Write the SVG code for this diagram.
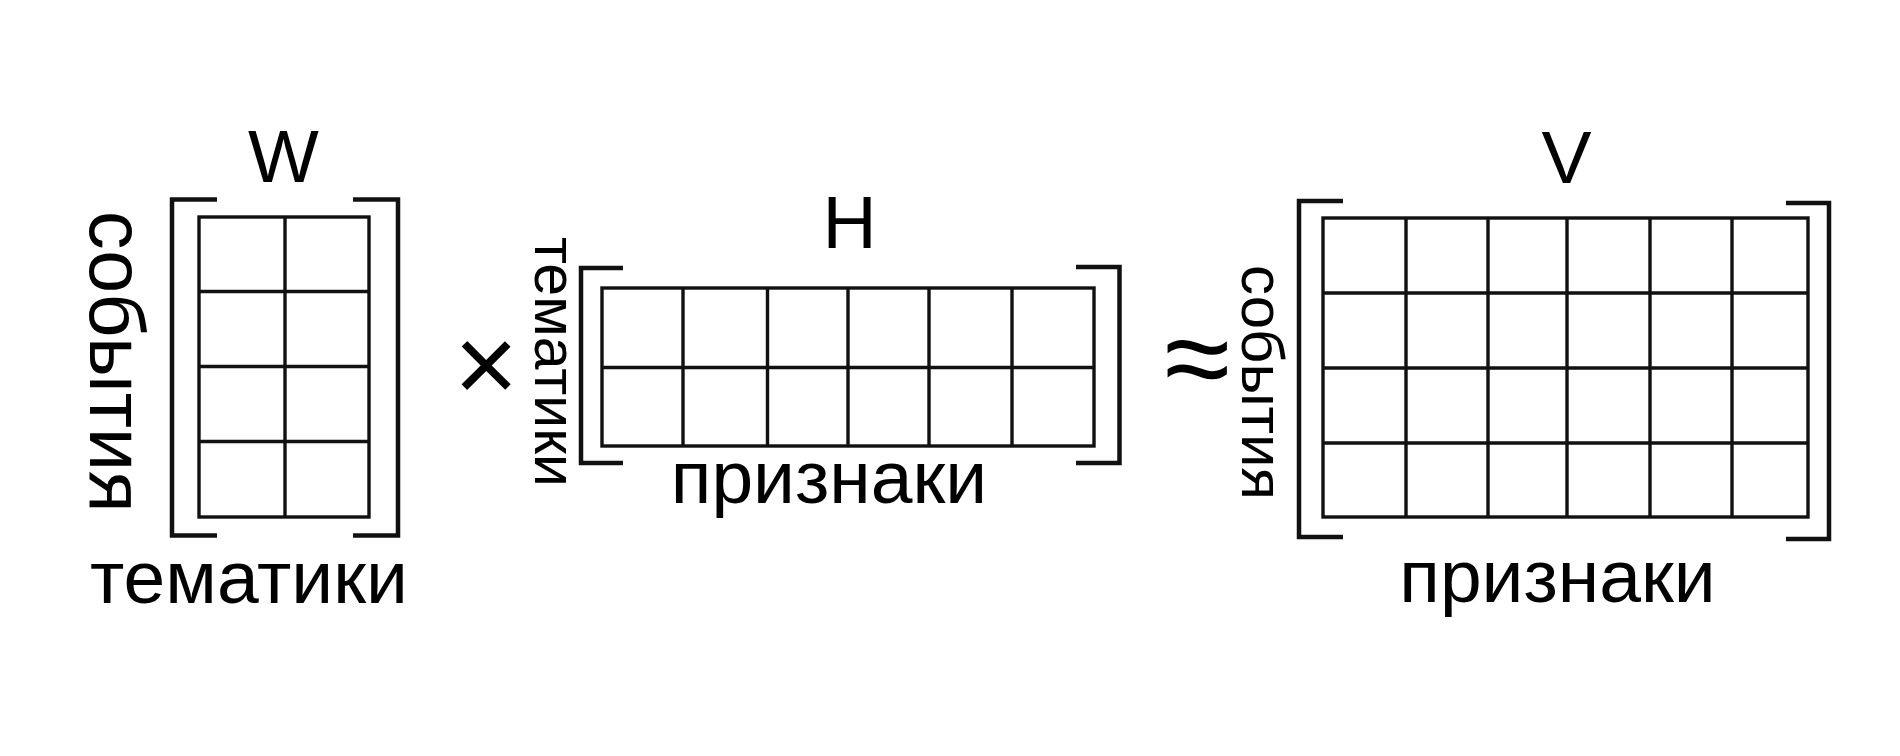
<svg xmlns="http://www.w3.org/2000/svg" width="1900" height="756" viewBox="0 0 1900 756">
<style>
.grid{fill:none;stroke:#111;stroke-width:3.4}
.br{fill:none;stroke:#111;stroke-width:4.5;stroke-linecap:butt;stroke-linejoin:miter}
.t{font-family:"Liberation Sans",Arial,sans-serif;fill:#000}
.big{font-size:75px}
.mid{font-size:60px}
</style>
<rect width="1900" height="756" fill="#fff"/>
<g id="W">
<text class="t big" x="283.5" y="182" text-anchor="middle">W</text>
<path class="br" d="M217,199.5 H172 V535.5 H217 M353,199.5 H398 V535.5 H353"/>
<rect class="grid" x="199" y="217" width="170" height="300"/>
<path class="grid" d="M285,217 V517 M199,291.5 H369 M199,366.5 H369 M199,441.5 H369"/>
<text class="t" font-size="77" transform="translate(90,211) rotate(90)">события</text>
<text class="t big" x="249" y="603" text-anchor="middle">тематики</text>
</g>
<g id="times">
<text class="t" x="486" y="402" font-size="110" text-anchor="middle">×</text>
</g>
<g id="H">
<text class="t big" x="849.5" y="248" text-anchor="middle">H</text>
<path class="br" d="M623,268 H581 V463 H623 M1076,267 H1119.5 V463 H1076"/>
<rect class="grid" x="602" y="288" width="492" height="158"/>
<path class="grid" d="M683,288 V446 M767.5,288 V446 M848,288 V446 M929,288 V446 M1012,288 V446 M602,367.5 H1094"/>
<text class="t" font-size="59" transform="translate(535,237) rotate(90)">тематики</text>
<text class="t big" x="829" y="503" text-anchor="middle">признаки</text>
</g>
<g id="approx">
<text class="t" x="1197.5" y="399" font-size="120" text-anchor="middle">≈</text>
</g>
<g id="V">
<text class="t big" x="1566.5" y="183" text-anchor="middle">V</text>
<path class="br" d="M1343,201 H1299 V537 H1343 M1786,203 H1829 V539 H1786"/>
<rect class="grid" x="1323" y="218" width="485" height="299"/>
<path class="grid" d="M1406,218 V517 M1488,218 V517 M1567,218 V517 M1650,218 V517 M1732,218 V517 M1323,293 H1808 M1323,368 H1808 M1323,443 H1808"/>
<text class="t mid" transform="translate(1242,265) rotate(90)">события</text>
<text class="t big" x="1557.5" y="602" text-anchor="middle">признаки</text>
</g>
<g id="connectors"></g>
</svg>
